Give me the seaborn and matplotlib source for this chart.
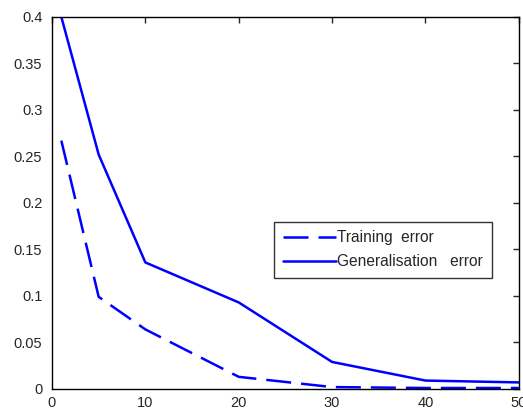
import matplotlib
matplotlib.use('Agg')
import matplotlib.pyplot as plt
import seaborn as sns
import pandas as pd

# values
x_vals = [1, 5, 10, 20, 30, 40, 50]
training_error = [0.267, 0.099, 0.064, 0.013, 0.002, 0.001, 0.001]
generalisation_error = [0.4, 0.252, 0.136, 0.093, 0.029, 0.009, 0.007]

df = pd.DataFrame({
    'x': x_vals * 2,
    'error': training_error + generalisation_error,
    'series': ['Training  error'] * len(x_vals) + ['Generalisation   error'] * len(x_vals),
})

sns.set_style('white')
plt.rcParams['font.family'] = ['Liberation Sans', 'DejaVu Sans']

fig = plt.figure(figsize=(5.23, 4.12), dpi=100)
ax = fig.add_axes([0.0994, 0.056, 0.8926, 0.903])

sns.lineplot(data=df, x='x', y='error', style='series',
             dashes={'Training  error': (10, 4), 'Generalisation   error': ''},
             color='#0000ff', linewidth=1.8, ax=ax)

ax.set_xlim(0, 50)
ax.set_ylim(0, 0.4)
ax.set_xticks([0, 10, 20, 30, 40, 50])
ax.set_yticks([0, 0.05, 0.1, 0.15, 0.2, 0.25, 0.3, 0.35, 0.4])
ax.set_yticklabels(['0', '0.05', '0.1', '0.15', '0.2', '0.25', '0.3', '0.35', '0.4'])
ax.set_xlabel('')
ax.set_ylabel('')
ax.tick_params(direction='in', top=True, right=True, length=4, width=1,
               labelsize=10.5, pad=5)
ax.tick_params(axis='y', pad=7)
for s in ax.spines.values():
    s.set_color('black')
    s.set_linewidth(1)

leg = ax.legend(loc='upper left', bbox_to_anchor=(0.476, 0.45), fontsize=11.2,
                frameon=True, fancybox=False, edgecolor='black',
                handlelength=3.4, handletextpad=0.1, borderpad=0.55,
                labelspacing=0.6, borderaxespad=0)
leg.get_frame().set_linewidth(1)

fig.savefig('out.png', dpi=100)
